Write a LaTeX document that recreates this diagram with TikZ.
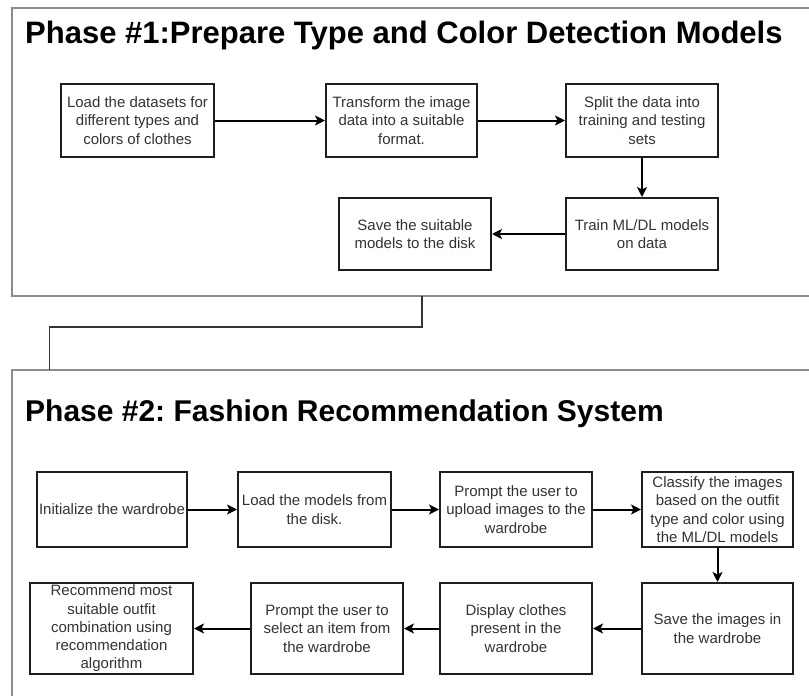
\documentclass[tikz,border=0pt]{standalone}
\usepackage{fontspec}
\setmainfont{Liberation Sans}
\usetikzlibrary{arrows.meta}
\frenchspacing
\tikzset{
  x=1pt, y=-1pt,
  frame/.style={draw=black!45, line width=1.6pt, fill=white},
  stepbox/.style={draw=black!88, line width=2pt, minimum width=152pt, minimum height=73pt,
    inner sep=0pt, align=center, text=black!80,
    font=\fontsize{15}{18.3}\selectfont},
  flow/.style={draw=black, line width=2pt, -{Stealth[length=10pt,width=10pt,inset=2.5pt]}},
  link/.style={draw=black!80, line width=1.3pt},
  heading/.style={anchor=base west, inner sep=0pt, text=black, font=\bfseries},
}
\begin{document}
\begin{tikzpicture}
\useasboundingbox (0,0) rectangle (809,696);
\clip (0,0) rectangle (809,696);
\fill[white] (0,0) rectangle (809,696);

% phase frames
\draw[frame] (12,8) rectangle (830,296);
\draw[frame] (12,370) rectangle (830,710);
\coordinate (f1out) at (422,296);
\coordinate (f2in) at (49.5,370);

% link between the two phases
\draw[link] (f1out) -- ++(0,31) -| (f2in);

% phase 1
\node[heading, font=\bfseries\fontsize{31}{36}\selectfont] (t1) at (25,43) {Phase \#1:Prepare Type and Color Detection Models};

\node[stepbox, minimum width=153pt] (load) at (137.5,120.5) {Load the datasets for\\different types and\\colors of clothes};
\node[stepbox, minimum width=151pt] (trans) at (401.5,120.5) {Transform the image\\data into a suitable\\format.};
\node[stepbox] (split) at (642,120.5) {Split the data into\\training and testing\\sets};
\node[stepbox, minimum height=72pt] (train) at (642,234) {Train ML/DL models\\on data};
\node[stepbox, minimum height=72pt] (save) at (415,234) {Save the suitable\\models to the disk};

\draw[flow] (load) -- (trans);
\draw[flow] (trans) -- (split);
\draw[flow] (split) -- (train);
\draw[flow] (train) -- (save);

% phase 2
\node[heading, font=\bfseries\fontsize{30}{35}\selectfont] (t2) at (25,421) {Phase \#2: Fashion Recommendation System};

\node[stepbox, minimum width=150pt, minimum height=75pt] (init) at (112,509.5) {Initialize the wardrobe};
\node[stepbox, minimum width=153pt, minimum height=75pt] (models) at (314.5,509.5) {Load the models from\\the disk.};
\node[stepbox, minimum height=75pt] (upload) at (516,509.5) {Prompt the user to\\upload images to the\\wardrobe};
\node[stepbox, minimum width=151pt, minimum height=75pt] (classify) at (717.5,509.5) {Classify the images\\based on the outfit\\type and color using\\the ML/DL models};

\node[stepbox, minimum width=151pt, minimum height=91pt] (store) at (717.5,628.5) {Save the images in\\the wardrobe};
\node[stepbox, minimum height=91pt] (display) at (516,628.5) {Display clothes\\present in the\\wardrobe};
\node[stepbox, minimum height=91pt] (select) at (327,628.5) {Prompt the user to\\select an item from\\the wardrobe};
\node[stepbox, minimum width=163pt, minimum height=91pt] (recommend) at (111.5,628.5) {Recommend most\\suitable outfit\\combination using\\recommendation\\algorithm};

\draw[flow] (init) -- (models);
\draw[flow] (models) -- (upload);
\draw[flow] (upload) -- (classify);
\draw[flow] (classify) -- (store);
\draw[flow] (store) -- (display);
\draw[flow] (display) -- (select);
\draw[flow] (select) -- (recommend);
\end{tikzpicture}
\end{document}
